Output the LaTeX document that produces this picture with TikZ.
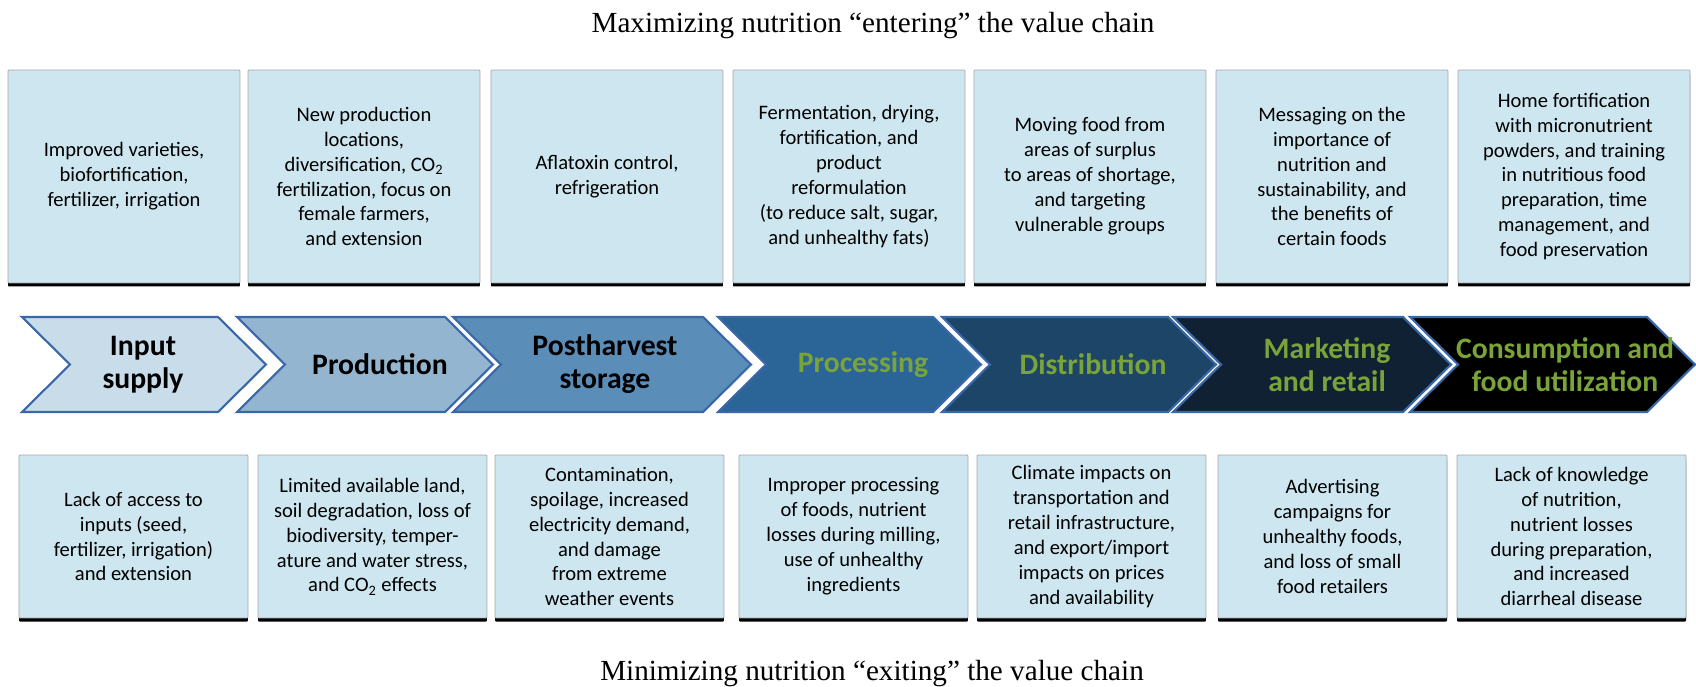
\documentclass[tikz,border=0pt]{standalone}
\usepackage{fontspec}
\setmainfont{Liberation Serif}
\newfontfamily\labelfont{Carlito}
\usetikzlibrary{shadows}
\definecolor{boxfill}{RGB}{205,230,239}
\definecolor{chevline}{RGB}{58,103,168}
\definecolor{stageA}{RGB}{201,220,234}
\definecolor{stageB}{RGB}{148,181,208}
\definecolor{stageC}{RGB}{90,141,184}
\definecolor{stageD}{RGB}{43,100,150}
\definecolor{stageE}{RGB}{29,69,104}
\definecolor{stageF}{RGB}{15,33,51}
\definecolor{stageG}{RGB}{0,0,0}
\definecolor{cgreen}{RGB}{122,163,58}

\begin{document}
\begin{tikzpicture}[
    x=0.02cm, y=-0.02cm,
    card/.style={draw=gray!70, line width=0.4pt, fill=boxfill, align=center,
                 rounded corners=0.5pt, inner sep=0pt,
                 font=\labelfont\fontsize{11.7}{14.2}\selectfont,
                 drop shadow={shadow xshift=0pt, shadow yshift=-2pt,
                              fill=black, opacity=1}},
    upper/.style={card, minimum width=4.64cm, minimum height=4.26cm},
    lower/.style={card, minimum width=4.58cm, minimum height=3.26cm},
    stage/.style={draw=chevline, line width=1.2pt, line join=miter},
    stagetext/.style={align=center, font=\labelfont\bfseries\fontsize{16.9}{18.7}\selectfont},
    heading/.style={anchor=base, font=\fontsize{16.6}{20}\selectfont},
  ]
  \useasboundingbox (0,0) rectangle (1696,686);

  %% Headings
  \node[heading] (enterhead) at (873,33) {Maximizing nutrition “entering” the value chain};
  \node[heading] (exithead) at (872,680) {Minimizing nutrition “exiting” the value chain};

  %% Upper row: ways to add nutrition
  \node[upper] (enter1) at (124,176.5)
    {Improved varieties,\\biofortification,\\fertilizer, irrigation};
  \node[upper] (enter2) at (364,176.5)
    {New production\\locations,\\diversification, CO\textsubscript{2}\\fertilization, focus on\\female farmers,\\and extension};
  \node[upper] (enter3) at (607,176.5)
    {Aflatoxin control,\\refrigeration};
  \node[upper] (enter4) at (849,176.5)
    {Fermentation, drying,\\fortification, and\\product\\reformulation\\(to reduce salt, sugar,\\and unhealthy fats)};
  \node[upper] (enter5) at (1090,176.5)
    {Moving food from\\areas of surplus\\to areas of shortage,\\and targeting\\vulnerable groups};
  \node[upper] (enter6) at (1332,176.5)
    {Messaging on the\\importance of\\nutrition and\\sustainability, and\\the benefits of\\certain foods};
  \node[upper] (enter7) at (1574,176.5)
    {Home fortification\\with micronutrient\\powders, and training\\in nutritious food\\preparation, time\\management, and\\food preservation};

  %% Middle row: the chain itself
  \draw[stage, fill=stageA] (22,317) -- (218,317) -- (266,364.5) -- (218,412) -- (22,412) -- (70,364.5) -- cycle;
  \draw[stage, fill=stageB] (237,317) -- (445,317) -- (493,364.5) -- (445,412) -- (237,412) -- (285,364.5) -- cycle;
  \draw[stage, fill=stageC] (453,317) -- (703,317) -- (751,364.5) -- (703,412) -- (453,412) -- (501,364.5) -- cycle;
  \draw[stage, fill=stageD] (718,317) -- (933,317) -- (981,364.5) -- (933,412) -- (718,412) -- (766,364.5) -- cycle;
  \draw[stage, fill=stageE] (942,317) -- (1168,317) -- (1216,364.5) -- (1168,412) -- (942,412) -- (990,364.5) -- cycle;
  \draw[stage, fill=stageF] (1173,317) -- (1403,317) -- (1451,364.5) -- (1403,412) -- (1173,412) -- (1221,364.5) -- cycle;
  \draw[stage, fill=stageG] (1410,317) -- (1647,317) -- (1695,364.5) -- (1647,412) -- (1410,412) -- (1458,364.5) -- cycle;

  \node[stagetext] (input) at (143,364.5) {Input\\supply};
  \node[stagetext] (production) at (380,364.5) {Production};
  \node[stagetext] (storage) at (605,364.5) {Postharvest\\storage};
  \node[stagetext, text=cgreen] (processing) at (863,364.5) {Processing};
  \node[stagetext, text=cgreen] (distribution) at (1093,364.5) {Distribution};
  \node[stagetext, text=cgreen] (marketing) at (1327,364.5) {Marketing\\and retail};
  \node[stagetext, text=cgreen] (consumption) at (1565,364.5) {Consumption and\\food utilization};

  %% Lower row: ways nutrition is lost
  \node[lower] (exit1) at (133.5,536.5)
    {Lack of access to\\inputs (seed,\\fertilizer, irrigation)\\and extension};
  \node[lower] (exit2) at (372.5,536.5)
    {Limited available land,\\soil degradation, loss of\\biodiversity, temper-\\ature and water stress,\\and CO\textsubscript{2} effects};
  \node[lower] (exit3) at (609.5,536.5)
    {Contamination,\\spoilage, increased\\electricity demand,\\and damage\\from extreme\\weather events};
  \node[lower] (exit4) at (853.5,536.5)
    {Improper processing\\of foods, nutrient\\losses during milling,\\use of unhealthy\\ingredients};
  \node[lower] (exit5) at (1091.5,536.5)
    {Climate impacts on\\transportation and\\retail infrastructure,\\and export/import\\impacts on prices\\and availability};
  \node[lower] (exit6) at (1332.5,536.5)
    {Advertising\\campaigns for\\unhealthy foods,\\and loss of small\\food retailers};
  \node[lower] (exit7) at (1571.5,536.5)
    {Lack of knowledge\\of nutrition,\\nutrient losses\\during preparation,\\and increased\\diarrheal disease};

\end{tikzpicture}
\end{document}
